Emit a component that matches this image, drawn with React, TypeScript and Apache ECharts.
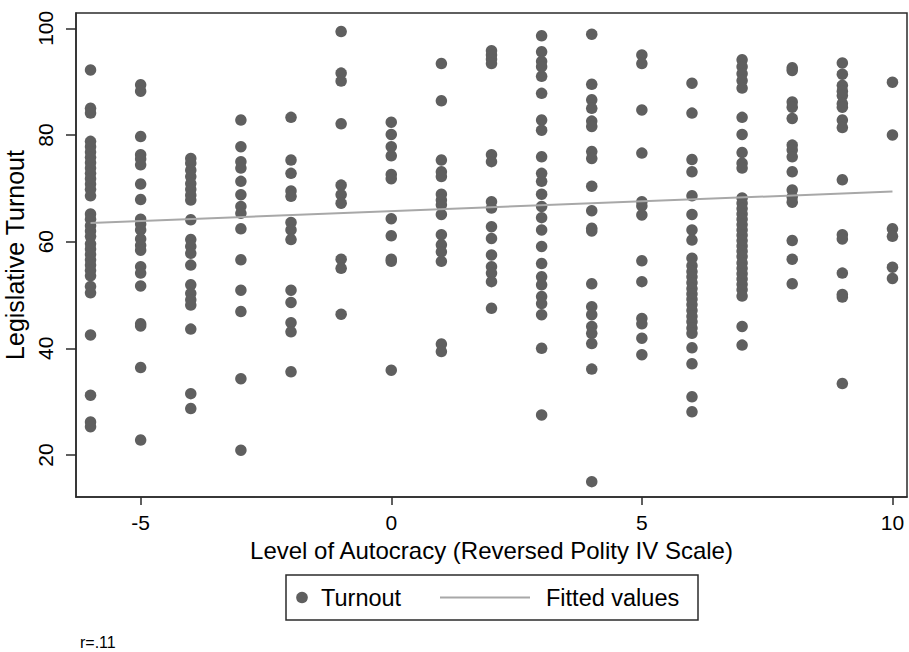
import React, { useEffect, useRef } from "react";
import * as echarts from "echarts";

// Autocracy levels (reversed Polity IV) and turnout values read at each level
const levels = [-6, -5, -4, -3, -2, -1, 0, 1, 2, 3, 4, 5, 6, 7, 8, 9, 10];
const turnoutM6 = [92.2, 85.0, 84.1, 78.8, 77.8, 76.8, 75.8, 74.8, 73.8, 72.8, 71.8, 70.8, 69.8, 68.6, 65.2, 64.2, 63.0, 62.0, 61.0, 59.6, 58.6, 57.6, 56.6, 55.6, 54.6, 53.6, 51.6, 50.4, 42.5, 31.2, 26.2, 25.3];
const turnoutM5 = [89.4, 88.2, 79.7, 76.3, 75.5, 74.4, 70.8, 67.9, 64.2, 63.3, 62.2, 60.5, 59.3, 58.4, 55.3, 54.1, 51.7, 44.6, 44.2, 36.4, 22.8];
const turnoutM4 = [75.6, 74.7, 73.4, 72.2, 70.9, 69.8, 68.7, 67.8, 64.1, 60.4, 59.1, 57.8, 55.6, 51.9, 50.3, 49.1, 48.1, 43.6, 31.5, 28.7];
const turnoutM3 = [82.8, 77.8, 75.0, 73.8, 71.3, 68.8, 66.6, 65.3, 62.4, 56.6, 50.9, 46.9, 34.3, 20.9];
const turnoutM2 = [83.3, 75.3, 72.8, 69.5, 68.5, 63.6, 62.2, 60.4, 50.9, 48.6, 44.8, 43.1, 35.6];
const turnoutM1 = [99.4, 91.6, 90.1, 82.1, 70.6, 68.8, 67.2, 56.7, 55.0, 46.4];
const turnout0 = [82.4, 80.1, 77.8, 76.1, 72.6, 71.8, 64.3, 61.1, 56.7, 56.3, 35.9];
const turnout1 = [93.4, 86.4, 75.3, 73.1, 72.2, 68.9, 67.8, 66.9, 65.1, 61.3, 59.4, 58.1, 56.3, 40.8, 39.4];
const turnout2 = [95.8, 95.0, 94.2, 93.4, 76.3, 75.0, 67.5, 66.3, 62.8, 60.6, 57.5, 55.3, 54.1, 52.5, 47.5];
const turnout3 = [98.6, 95.6, 93.8, 92.8, 91.0, 87.8, 82.8, 80.9, 75.9, 72.8, 71.3, 68.9, 66.6, 64.5, 62.2, 59.1, 55.9, 53.4, 51.9, 49.7, 48.4, 46.3, 40.0, 27.5];
const turnout4 = [98.9, 89.5, 86.6, 85.0, 82.6, 81.6, 76.9, 75.6, 70.4, 65.8, 62.5, 62.0, 52.1, 47.8, 46.3, 44.1, 42.8, 40.9, 36.1, 15.0];
const turnout5 = [95.0, 93.4, 84.7, 76.6, 67.5, 66.7, 65.0, 56.4, 52.5, 45.6, 44.6, 41.9, 38.8];
const turnout6 = [89.7, 84.1, 75.4, 73.1, 68.6, 65.1, 62.2, 60.3, 56.9, 55.5, 54.4, 53.4, 52.3, 51.2, 50.2, 49.2, 48.2, 47.1, 46.0, 45.0, 43.8, 42.8, 40.1, 37.1, 30.9, 28.1];
const turnout7 = [94.1, 92.8, 91.5, 90.2, 88.8, 83.3, 80.1, 76.7, 74.7, 73.8, 68.2, 67.2, 66.2, 65.2, 64.2, 63.2, 62.2, 61.2, 60.2, 59.2, 58.2, 57.2, 56.0, 55.0, 54.0, 53.0, 52.0, 51.0, 49.8, 44.1, 40.6];
const turnout8 = [92.6, 92.1, 86.2, 85.2, 83.1, 78.1, 77.2, 75.9, 73.1, 69.7, 68.4, 67.4, 60.2, 56.7, 52.1];
const turnout9 = [93.5, 91.4, 89.3, 88.2, 87.4, 85.9, 85.2, 82.8, 81.4, 71.6, 61.3, 60.5, 54.1, 50.1, 49.6, 33.4];
const turnout10 = [89.9, 80.0, 62.4, 61.0, 55.2, 53.1];

// Fitted regression line endpoints
const fittedX = [-6, 10];
const fittedY = [63.5, 69.4];

// Tick labels
const xTicks = [-5, 0, 5, 10];
const yTicks = [20, 40, 60, 80, 100];

const turnoutColumns = [
  turnoutM6, turnoutM5, turnoutM4, turnoutM3, turnoutM2, turnoutM1, turnout0,
  turnout1, turnout2, turnout3, turnout4, turnout5, turnout6, turnout7,
  turnout8, turnout9, turnout10,
];

const FONT = "'Liberation Sans', Arial, Helvetica, sans-serif";
const DOT = "#5f5f5f";
const FIT = "#a8a8a8";
const FRAME = "#2b2b2b";

export default function App() {
  const ref = useRef<HTMLDivElement>(null);

  useEffect(() => {
    if (!ref.current) return;
    const chart = echarts.init(ref.current, null, { renderer: "svg" });

    const scatterData: number[][] = [];
    levels.forEach((lv, i) => {
      turnoutColumns[i].forEach((v) => scatterData.push([lv, v]));
    });
    const fitData = fittedX.map((x, i) => [x, fittedY[i]]);

    chart.setOption({
      animation: false,
      backgroundColor: "#ffffff",
      textStyle: { fontFamily: FONT },
      grid: {
        left: 76,
        right: 2,
        top: 13,
        bottom: 155,
        show: true,
        borderColor: FRAME,
        borderWidth: 1.5,
        containLabel: false,
        outerBoundsMode: "none",
      },
      xAxis: {
        type: "value",
        min: -6.29,
        max: 10.29,
        name: "Level of Autocracy (Reversed Polity IV Scale)",
        nameLocation: "middle",
        nameGap: 41,
        nameTextStyle: { fontSize: 24, color: "#000", fontFamily: FONT },
        splitLine: { show: false },
        axisLine: { show: true, onZero: false, lineStyle: { color: FRAME, width: 1.5 } },
        axisTick: { show: true, length: 8, customValues: xTicks, lineStyle: { color: FRAME, width: 1.5 } },
        axisLabel: { customValues: xTicks, fontSize: 21, color: "#000", margin: 15, fontFamily: FONT },
      },
      yAxis: {
        type: "value",
        min: 12.12,
        max: 102.87,
        name: "Legislative Turnout",
        nameLocation: "middle",
        nameGap: 41,
        nameTextStyle: { fontSize: 25, color: "#000", fontFamily: FONT },
        splitLine: { show: false },
        axisLine: { show: true, onZero: false, lineStyle: { color: FRAME, width: 1.5 } },
        axisTick: { show: true, length: 10, customValues: yTicks, lineStyle: { color: FRAME, width: 1.5 } },
        axisLabel: { customValues: yTicks, fontSize: 21, color: "#000", margin: 20, rotate: 90, fontFamily: FONT },
      },
      series: [
        {
          name: "Turnout",
          type: "scatter",
          data: scatterData,
          symbol: "circle",
          symbolSize: 11.5,
          itemStyle: { color: DOT, opacity: 1 },
          z: 2,
        },
        {
          name: "Fitted values",
          type: "line",
          data: fitData,
          symbol: "none",
          lineStyle: { color: FIT, width: 2 },
          z: 3,
        },
      ],
      graphic: [
        {
          type: "rect",
          shape: { x: 286, y: 575, width: 412, height: 45 },
          style: { fill: "#fff", stroke: FRAME, lineWidth: 1.5 },
        },
        {
          type: "circle",
          shape: { cx: 302, cy: 597.5, r: 5.8 },
          style: { fill: DOT },
        },
        {
          type: "text",
          x: 321,
          y: 598,
          style: { text: "Turnout", fontSize: 23.5, fontFamily: FONT, fill: "#000", verticalAlign: "middle", align: "left" },
        },
        {
          type: "line",
          shape: { x1: 440, y1: 597.5, x2: 530, y2: 597.5 },
          style: { stroke: FIT, lineWidth: 2 },
        },
        {
          type: "text",
          x: 546,
          y: 598,
          style: { text: "Fitted values", fontSize: 23.5, fontFamily: FONT, fill: "#000", verticalAlign: "middle", align: "left" },
        },
        {
          type: "text",
          x: 80,
          y: 642,
          style: { text: "r=.11", fontSize: 16, fontFamily: FONT, fill: "#000", verticalAlign: "middle", align: "left" },
        },
      ],
    });

    return () => chart.dispose();
  }, []);

  return (
    <div
      ref={ref}
      style={{ position: "fixed", left: 0, top: 0, width: 909, height: 652, background: "#fff" }}
    />
  );
}
